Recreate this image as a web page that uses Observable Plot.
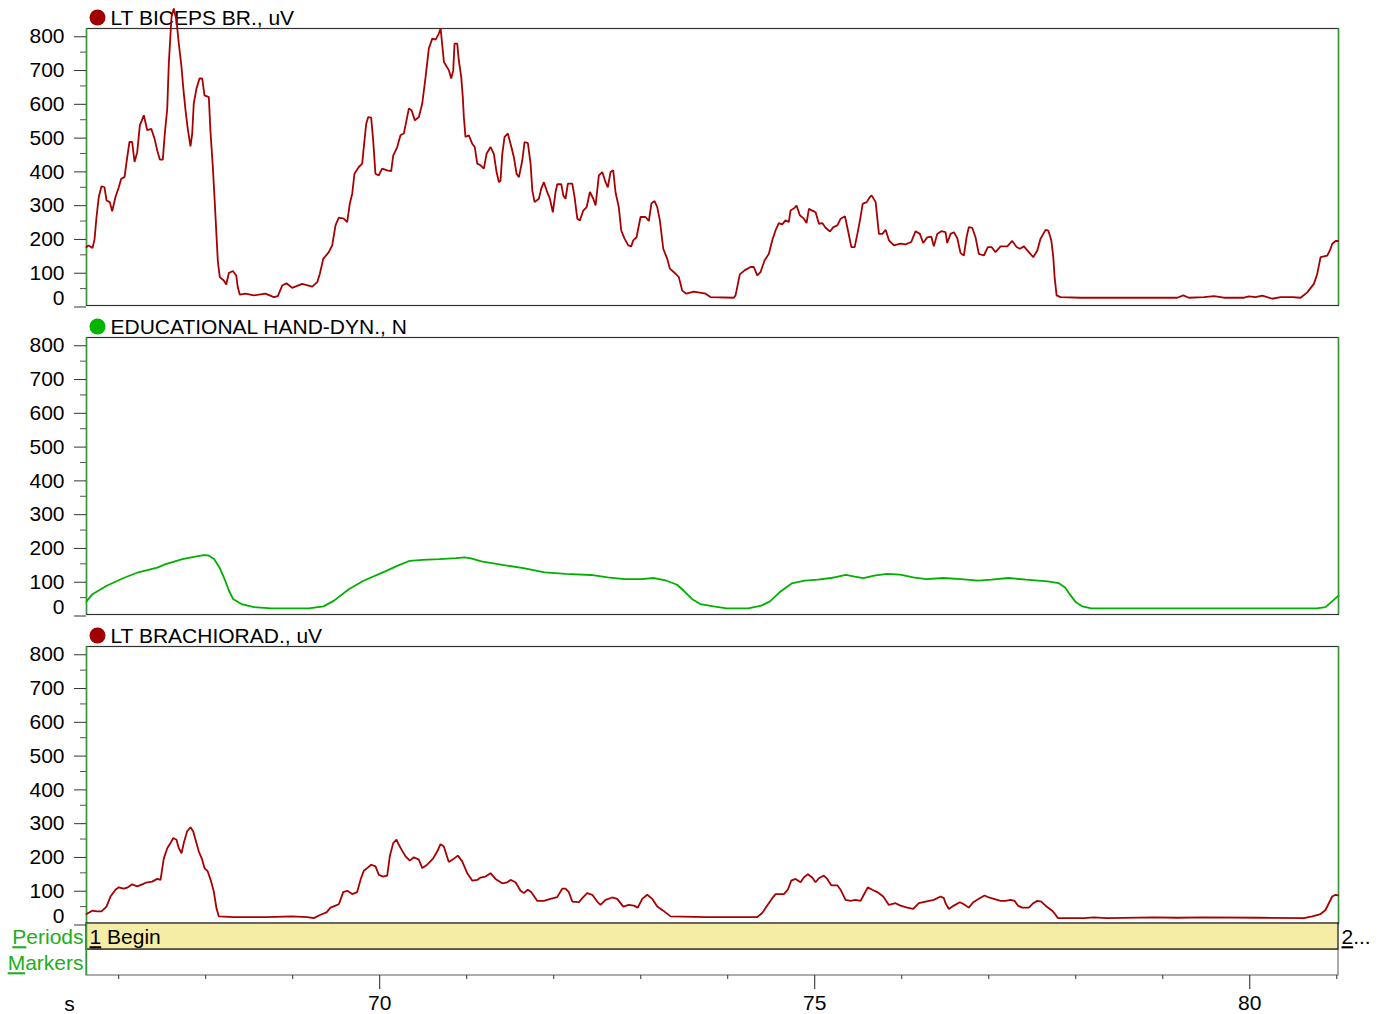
<!DOCTYPE html>
<html><head><meta charset="utf-8">
<script src="https://cdn.jsdelivr.net/npm/d3@7"></script>
<script src="https://cdn.jsdelivr.net/npm/@observablehq/plot@0.6"></script>
<style>
body{margin:0;background:#fff;}
#chart{position:relative;width:1379px;height:1014px;font-family:"Liberation Sans",Arial,sans-serif;}
#chart svg{position:absolute;left:0;}
</style></head><body><div id="chart"></div>
<script>
// ---- data ----
const xDomain = [66.63, 81.02];          // seconds
const yMax = 820;
const yMajorTicks = [0, 100, 200, 300, 400, 500, 600, 700, 800];
const yMinorTicks = [50, 150, 250, 350, 450, 550, 650, 750];
const xMajorTicks = [70, 75, 80];
const xMinorTicks = [67, 68, 69, 71, 72, 73, 74, 76, 77, 78, 79, 81];
const channelLabels = ["LT BICEPS BR., uV", "EDUCATIONAL HAND-DYN., N", "LT BRACHIORAD., uV"];
const rowLabels = ["Periods", "Markers"];
const periods = [{num: "1", name: " Begin", start: 66.63, end: 81.02}, {num: "2", name: "...", start: 81.02, end: 81.02}];

// time (s), value
const biceps = [[66.630,173],[66.653,178],[66.699,170],[66.722,195],[66.745,262],[66.771,321],[66.802,353],[66.837,350],[66.860,311],[66.898,306],[66.925,279],[66.963,321],[67.001,350],[67.029,375],[67.067,380],[67.098,439],[67.124,484],[67.155,484],[67.182,425],[67.213,454],[67.243,533],[67.289,563],[67.328,519],[67.374,523],[67.412,494],[67.443,459],[67.473,432],[67.507,432],[67.530,509],[67.558,583],[67.576,716],[67.607,854],[67.633,879],[67.664,844],[67.691,775],[67.722,706],[67.741,647],[67.768,578],[67.794,523],[67.825,471],[67.845,509],[67.863,598],[67.894,642],[67.929,672],[67.960,672],[67.986,622],[68.036,617],[68.055,514],[68.082,410],[68.101,321],[68.121,222],[68.139,133],[68.162,84],[68.208,74],[68.236,62],[68.266,96],[68.312,102],[68.351,89],[68.369,54],[68.392,32],[68.458,35],[68.553,30],[68.687,35],[68.783,25],[68.829,28],[68.879,59],[68.929,66],[68.994,52],[69.109,64],[69.224,56],[69.282,69],[69.312,94],[69.351,138],[69.415,158],[69.454,178],[69.492,237],[69.530,260],[69.587,257],[69.626,247],[69.656,301],[69.684,331],[69.710,390],[69.760,410],[69.799,420],[69.817,469],[69.845,538],[69.868,558],[69.902,556],[69.925,489],[69.951,390],[69.989,385],[70.028,405],[70.086,400],[70.132,398],[70.155,444],[70.201,469],[70.239,504],[70.277,509],[70.308,548],[70.335,583],[70.366,578],[70.404,548],[70.450,558],[70.489,598],[70.527,676],[70.565,761],[70.604,790],[70.642,787],[70.680,805],[70.700,820],[70.738,721],[70.796,696],[70.822,672],[70.845,696],[70.860,775],[70.891,775],[70.909,726],[70.937,677],[70.955,617],[70.967,558],[70.986,499],[71.024,504],[71.063,479],[71.093,469],[71.121,420],[71.159,415],[71.197,405],[71.228,449],[71.274,469],[71.312,449],[71.343,395],[71.370,365],[71.389,370],[71.409,449],[71.435,499],[71.473,509],[71.513,469],[71.542,439],[71.573,390],[71.600,380],[71.639,430],[71.665,484],[71.703,481],[71.734,420],[71.754,341],[71.780,306],[71.829,316],[71.857,346],[71.887,365],[71.918,341],[71.956,316],[71.990,276],[72.021,336],[72.041,359],[72.087,359],[72.110,326],[72.136,316],[72.163,361],[72.213,361],[72.240,321],[72.271,257],[72.301,252],[72.340,281],[72.378,291],[72.416,336],[72.455,316],[72.481,296],[72.519,385],[72.558,395],[72.596,365],[72.622,350],[72.653,395],[72.684,400],[72.710,336],[72.748,291],[72.776,222],[72.814,198],[72.857,178],[72.891,175],[72.914,193],[72.952,202],[72.998,262],[73.055,262],[73.093,250],[73.124,303],[73.159,309],[73.190,291],[73.220,252],[73.259,168],[73.305,138],[73.335,109],[73.401,94],[73.438,84],[73.477,44],[73.526,35],[73.610,41],[73.745,35],[73.802,25],[74.070,23],[74.090,30],[74.139,92],[74.193,104],[74.262,114],[74.300,114],[74.339,89],[74.377,99],[74.423,133],[74.473,153],[74.512,193],[74.549,222],[74.587,244],[74.626,240],[74.664,252],[74.702,247],[74.722,281],[74.768,289],[74.791,296],[74.829,267],[74.875,257],[74.906,244],[74.933,286],[74.972,281],[75.010,276],[75.048,242],[75.087,244],[75.125,230],[75.175,219],[75.214,232],[75.260,237],[75.298,257],[75.348,264],[75.382,222],[75.421,173],[75.459,173],[75.490,212],[75.520,252],[75.551,301],[75.597,306],[75.635,321],[75.654,326],[75.700,306],[75.738,212],[75.777,212],[75.815,224],[75.853,193],[75.910,178],[75.986,183],[76.044,181],[76.109,188],[76.159,220],[76.208,212],[76.247,185],[76.293,202],[76.339,204],[76.369,175],[76.408,212],[76.454,220],[76.503,217],[76.523,185],[76.561,212],[76.599,217],[76.638,200],[76.676,155],[76.714,148],[76.745,202],[76.771,232],[76.810,230],[76.848,202],[76.886,153],[76.944,148],[76.990,173],[77.032,173],[77.078,158],[77.136,175],[77.213,175],[77.270,191],[77.320,173],[77.358,168],[77.404,175],[77.461,158],[77.512,143],[77.558,163],[77.596,198],[77.653,224],[77.684,222],[77.719,193],[77.742,143],[77.757,84],[77.780,30],[77.826,25],[78.056,23],[79.167,23],[79.236,30],[79.300,23],[79.473,25],[79.588,28],[79.703,23],[79.933,23],[79.990,27],[80.067,25],[80.144,29],[80.259,20],[80.354,25],[80.489,25],[80.584,23],[80.661,39],[80.737,64],[80.776,94],[80.814,143],[80.891,148],[80.921,163],[80.949,183],[80.987,191],[81.013,191]];

const handForce = [[66.630,39],[66.693,59],[66.862,85],[67.056,108],[67.225,125],[67.443,139],[67.540,149],[67.733,164],[67.878,171],[67.975,176],[68.033,175],[68.096,164],[68.159,139],[68.217,105],[68.266,71],[68.314,46],[68.411,31],[68.556,22],[68.749,18],[69.185,18],[69.354,24],[69.475,41],[69.645,75],[69.814,100],[70.056,127],[70.201,144],[70.346,159],[70.492,162],[70.685,164],[70.879,167],[70.976,169],[71.048,166],[71.169,157],[71.411,147],[71.653,137],[71.895,125],[72.137,120],[72.427,117],[72.621,110],[72.814,105],[73.008,105],[73.153,108],[73.298,100],[73.419,88],[73.492,71],[73.588,46],[73.685,31],[73.837,24],[73.987,18],[74.236,18],[74.386,26],[74.485,39],[74.611,69],[74.735,92],[74.885,100],[75.035,103],[75.184,108],[75.359,117],[75.459,112],[75.559,108],[75.683,115],[75.832,120],[75.982,118],[76.132,110],[76.281,105],[76.480,108],[76.680,105],[76.880,100],[77.030,103],[77.229,108],[77.429,103],[77.678,98],[77.802,93],[77.878,80],[77.928,61],[78.002,36],[78.077,24],[78.177,18],[78.676,18],[80.772,18],[80.871,22],[80.946,39],[81.020,56]];

const brachiorad = [[66.630,28],[66.696,38],[66.753,36],[66.802,36],[66.860,50],[66.906,80],[66.963,100],[67.001,107],[67.059,103],[67.105,107],[67.155,116],[67.213,110],[67.270,116],[67.328,122],[67.385,124],[67.443,132],[67.481,129],[67.518,192],[67.558,223],[67.596,238],[67.627,253],[67.664,248],[67.691,223],[67.722,208],[67.748,238],[67.787,273],[67.825,285],[67.856,273],[67.883,248],[67.921,213],[67.960,189],[67.986,164],[68.024,154],[68.063,124],[68.093,95],[68.124,45],[68.151,21],[68.323,19],[68.707,19],[68.994,21],[69.167,19],[69.243,16],[69.320,26],[69.389,33],[69.435,47],[69.492,53],[69.530,57],[69.581,93],[69.627,97],[69.684,87],[69.741,93],[69.779,129],[69.817,156],[69.856,164],[69.902,174],[69.952,169],[69.990,144],[70.040,139],[70.086,142],[70.116,199],[70.155,238],[70.193,248],[70.220,233],[70.259,215],[70.297,199],[70.346,186],[70.392,196],[70.450,189],[70.489,164],[70.546,174],[70.615,193],[70.661,213],[70.699,235],[70.737,228],[70.794,182],[70.852,192],[70.898,201],[70.948,184],[71.006,149],[71.063,127],[71.121,129],[71.159,136],[71.216,139],[71.274,149],[71.331,132],[71.408,119],[71.466,122],[71.504,129],[71.561,122],[71.619,97],[71.656,90],[71.702,100],[71.741,93],[71.810,67],[71.886,67],[71.963,73],[72.040,78],[72.098,103],[72.136,103],[72.174,93],[72.213,65],[72.289,63],[72.328,75],[72.385,90],[72.443,85],[72.500,65],[72.538,55],[72.596,70],[72.673,77],[72.730,73],[72.799,50],[72.863,55],[72.921,53],[72.967,47],[73.017,73],[73.075,85],[73.132,73],[73.190,50],[73.259,38],[73.343,21],[73.764,19],[74.339,19],[74.396,31],[74.454,53],[74.512,75],[74.550,87],[74.645,87],[74.691,100],[74.730,127],[74.779,132],[74.837,122],[74.875,136],[74.921,146],[74.971,136],[75.009,122],[75.047,134],[75.105,142],[75.144,132],[75.190,113],[75.259,113],[75.297,100],[75.354,70],[75.412,67],[75.469,70],[75.527,67],[75.564,85],[75.610,107],[75.661,100],[75.719,93],[75.787,80],[75.852,55],[75.929,60],[75.986,53],[76.063,47],[76.132,43],[76.197,60],[76.274,65],[76.369,70],[76.446,80],[76.484,75],[76.504,60],[76.541,43],[76.599,53],[76.668,63],[76.714,57],[76.771,47],[76.822,63],[76.886,73],[76.952,83],[77.001,77],[77.059,73],[77.136,67],[77.193,67],[77.251,70],[77.297,67],[77.335,53],[77.385,47],[77.461,47],[77.512,60],[77.558,67],[77.604,65],[77.664,50],[77.730,38],[77.768,26],[77.794,16],[78.093,16],[78.208,18],[78.362,16],[78.898,18],[79.167,17],[79.473,18],[80.124,17],[80.622,16],[80.719,21],[80.814,28],[80.871,40],[80.909,60],[80.948,80],[80.986,85],[81.013,83]];

// ---- drawing ----
const FONT = "'Liberation Sans', Arial, sans-serif";
const RED = "#a80000", RED_DOT = "#a00000", GREEN = "#00b000", GREEN_DOT = "#00b400";
const LABEL_GREEN = "#20ae20", PERIOD_FILL = "#f5eca6", EDGE_GREEN = "#3c943c";
const W = 1379, ML = 86, MR = 41, FS = 21;
const chart = document.getElementById("chart");

function panel(series, color, dotColor, label, top) {
  const svg = Plot.plot({
    width: W, height: 309, marginTop: 28, marginBottom: 4, marginLeft: ML, marginRight: MR,
    style: {background: "transparent", overflow: "visible", fontFamily: FONT, fontSize: FS + "px", color: "#000"},
    x: {domain: xDomain, axis: null},
    y: {domain: [0, yMax]},
    marks: [
      Plot.frame({stroke: "#333", strokeWidth: 1.2}),
      Plot.ruleX(xDomain, {stroke: EDGE_GREEN, strokeWidth: 1.5}),
      Plot.axisY(yMajorTicks, {tickSize: 12, tickPadding: 10, fontSize: FS, stroke: "#333", dy: 1.5, tickFormat: d => d === 0 ? "" : d}),
      Plot.axisY(yMinorTicks, {tickSize: 6, stroke: "#555", tickFormat: () => ""}),
      Plot.text([0], {y: d => d, frameAnchor: "left", dx: -22, dy: -7, textAnchor: "end", lineAnchor: "middle", fontSize: FS, fill: "#000"}),
      Plot.dot([label], {frameAnchor: "top-left", dx: 11, dy: -11, r: 8, fill: dotColor, stroke: null}),
      Plot.text([label], {frameAnchor: "top-left", dx: 24, dy: -10, textAnchor: "start", lineAnchor: "middle", fontSize: FS, fill: "#000"}),
      Plot.line(series, {x: d => d[0], y: d => d[1], stroke: color, strokeWidth: 1.8, strokeLinejoin: "miter"})
    ]
  });
  svg.style.top = top + "px";
  chart.appendChild(svg);
}

panel(biceps, RED, RED_DOT, channelLabels[0], 0);
panel(handForce, GREEN, GREEN_DOT, channelLabels[1], 309);
panel(brachiorad, RED, RED_DOT, channelLabels[2], 618);

const bottom = Plot.plot({
  width: W, height: 92, marginTop: 1, marginBottom: 39, marginLeft: ML, marginRight: MR,
  style: {background: "transparent", overflow: "visible", fontFamily: FONT, fontSize: FS + "px", color: "#000"},
  x: {domain: xDomain},
  y: {domain: [0, 2], reverse: true, axis: null},
  marks: [
    Plot.rect(rowLabels.slice(1), {x1: () => xDomain[0], x2: () => xDomain[1], y1: () => 1, y2: () => 2, fill: "white", stroke: "#777", strokeWidth: 1.2}),
    Plot.rect(periods.filter(p => p.end > p.start), {x1: "start", x2: "end", y1: () => 0, y2: () => 1, fill: PERIOD_FILL, stroke: "#111", strokeWidth: 1.2}),
    Plot.ruleX([xDomain[0]], {y1: 0, y2: 2, stroke: EDGE_GREEN, strokeWidth: 1.5}),
    Plot.text(periods, {x: "start", y: () => 0.5, dx: 3, dy: 1, text: d => d.num + d.name, textAnchor: "start", lineAnchor: "middle", fontSize: FS, fill: "#000"}),
    Plot.text(rowLabels, {y: (d, i) => i + 0.5, frameAnchor: "left", dx: -3, dy: (1), textAnchor: "end", lineAnchor: "middle", fontSize: FS, fill: LABEL_GREEN}),
    Plot.axisX(xMajorTicks, {tickSize: 14, tickPadding: 6, fontSize: FS, stroke: "#222"}),
    Plot.axisX(xMinorTicks, {tickSize: 4, stroke: "#333", tickFormat: () => ""}),
    Plot.text(["s"], {frameAnchor: "bottom-left", dx: -17, dy: 29, textAnchor: "middle", lineAnchor: "middle", fontSize: FS, fill: "#000"})
  ]
});
bottom.style.top = "922px";
chart.appendChild(bottom);

// underline the access-key character (first letter) of these labels
const underlined = new Set(["Periods", "Markers", "1 Begin", "2..."]);
d3.select(bottom).selectAll("text").each(function() {
  const t = this.textContent;
  if (underlined.has(t)) {
    const sel = d3.select(this);
    sel.text(null);
    sel.append("tspan").attr("text-decoration", "underline").text(t[0]);
    sel.append("tspan").text(t.slice(1));
  }
});
</script></body></html>
